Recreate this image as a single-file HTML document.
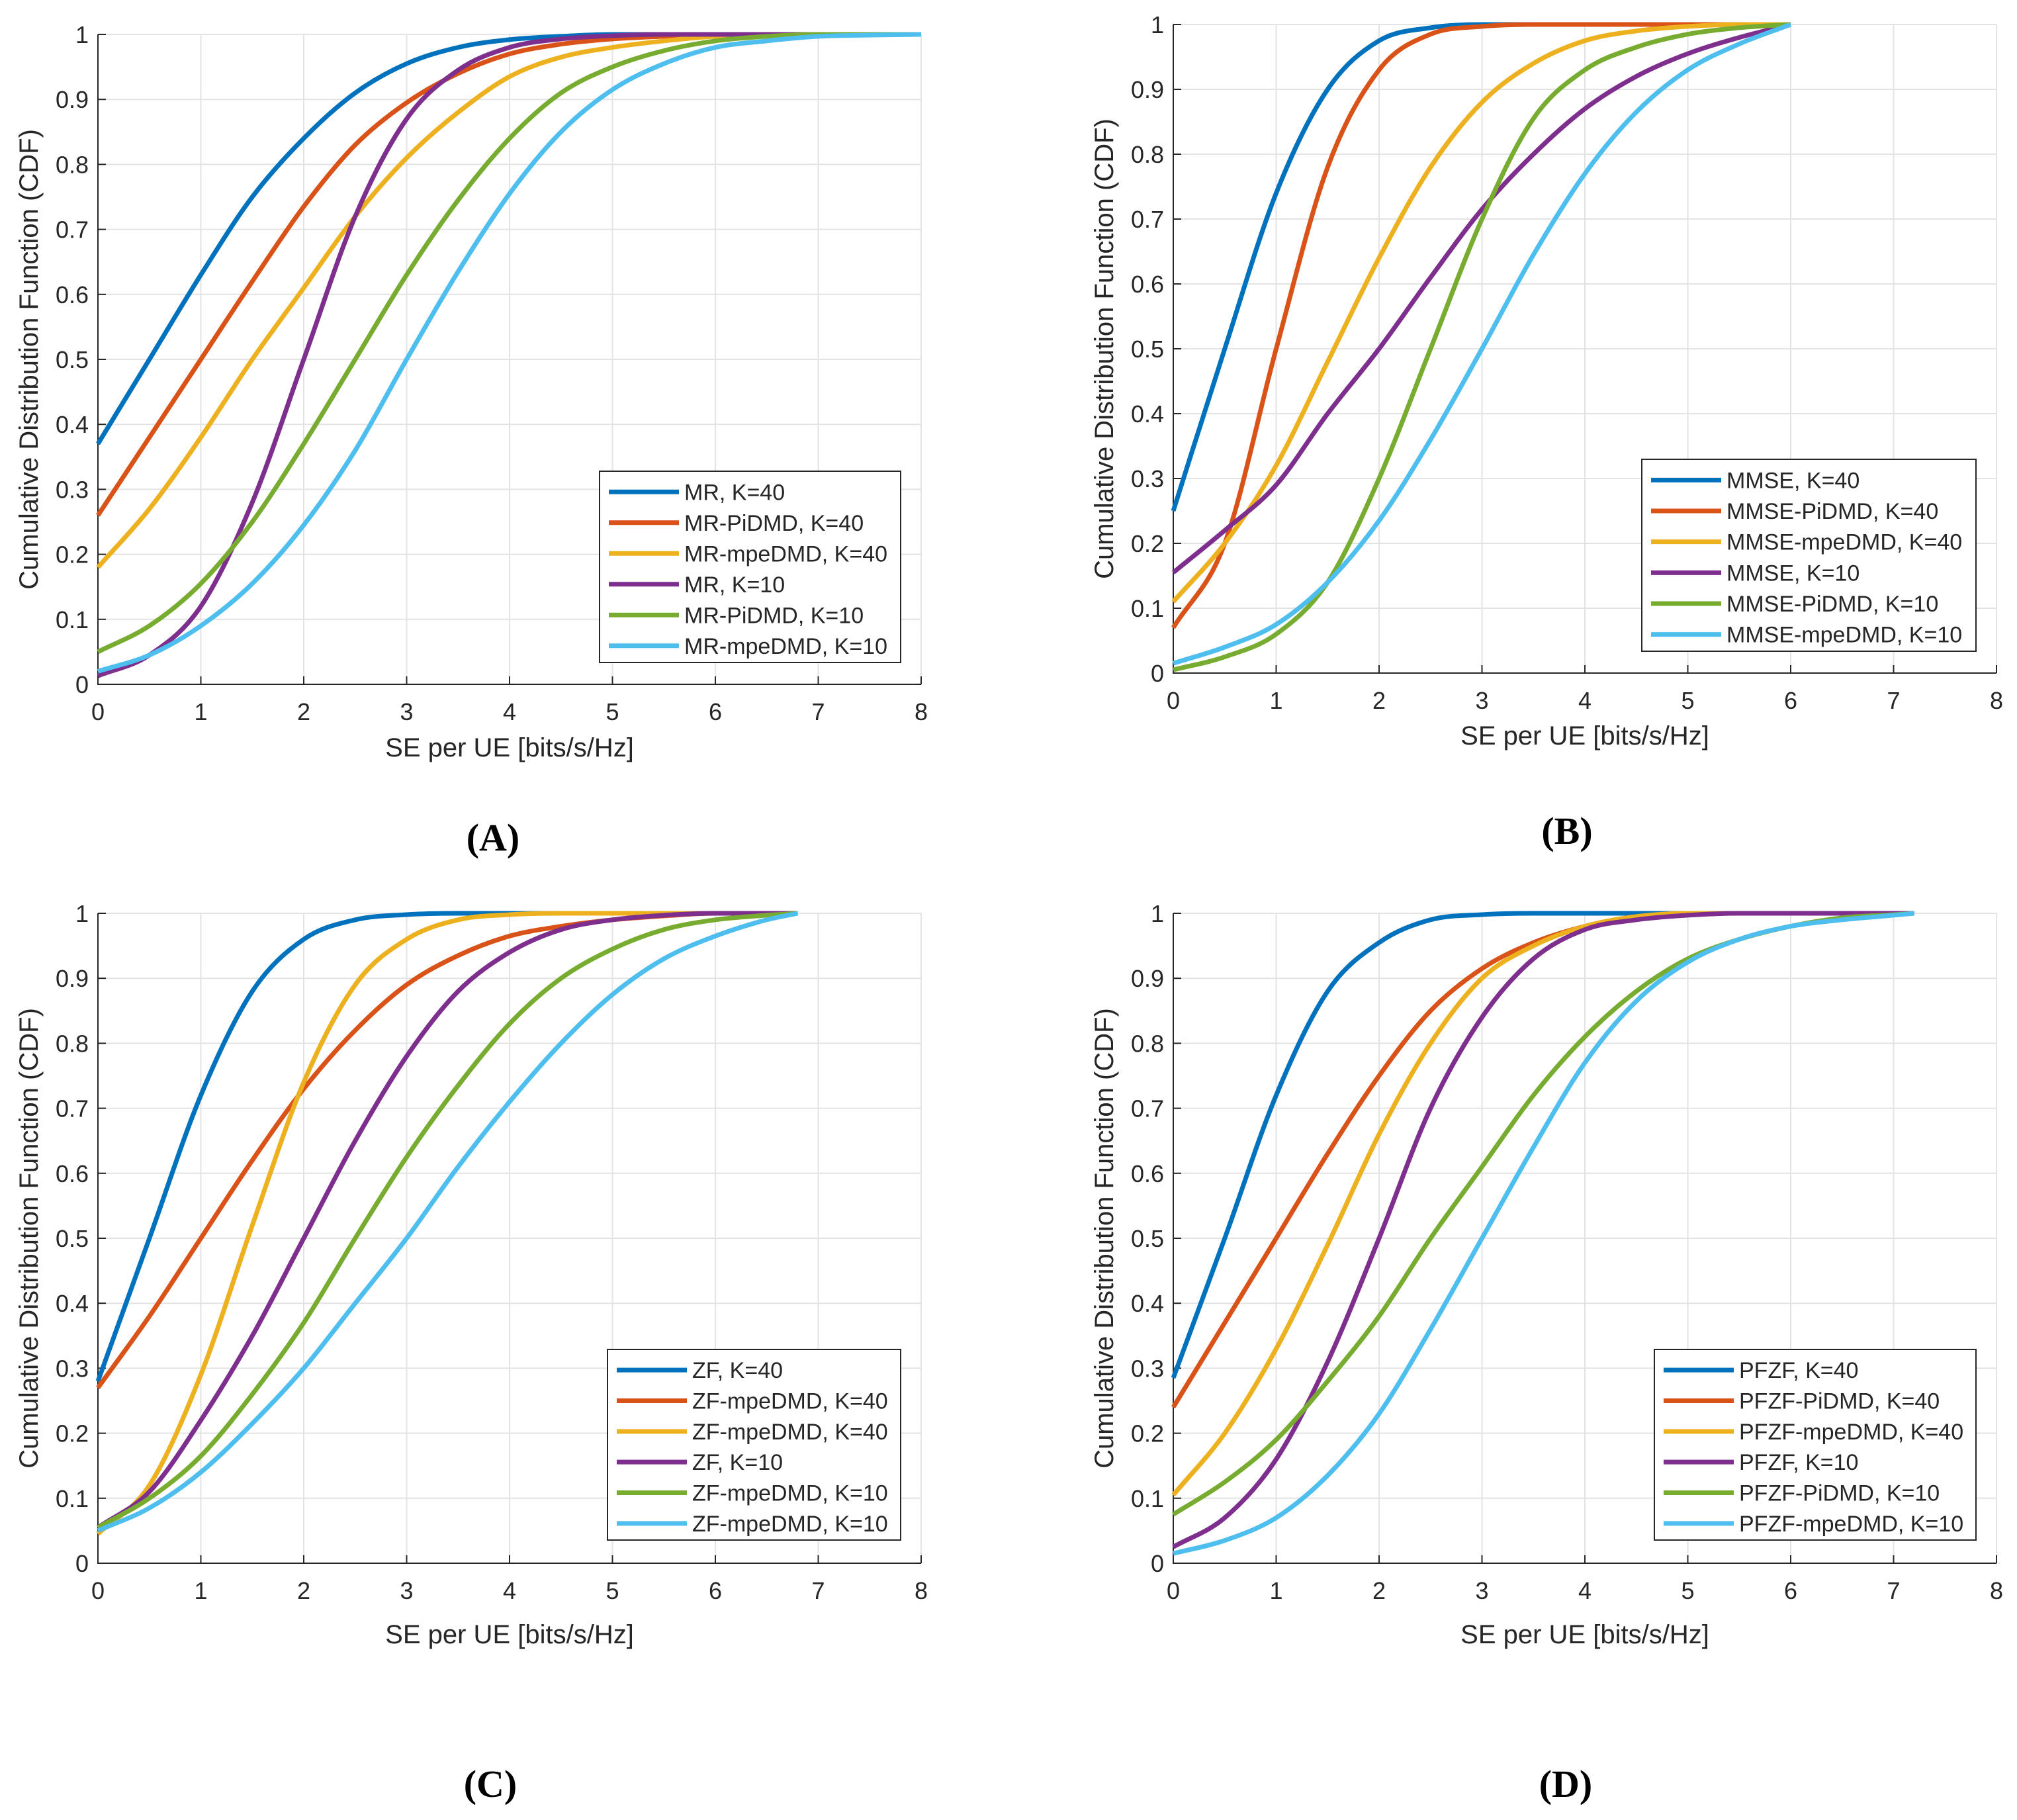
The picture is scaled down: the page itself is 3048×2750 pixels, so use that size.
<!DOCTYPE html>
<html><head><meta charset="utf-8"><style>
html,body{margin:0;padding:0;background:#fff;}
svg{display:block;}
text{font-family:"Liberation Sans",Arial,sans-serif;fill:#262626;}
.cap{font-family:"Liberation Serif",serif;font-weight:bold;fill:#000;}
</style></head><body>
<svg id="fig" width="3048" height="2750" viewBox="0 0 3048 2750" xmlns="http://www.w3.org/2000/svg"></svg>
<script>
// ---- data ----
const colors = ["#0072BD","#D95319","#EDB120","#7E2F8E","#77AC30","#4DBEEE"];
const xTicks = [0,1,2,3,4,5,6,7,8];
const yTicks = [0,0.1,0.2,0.3,0.4,0.5,0.6,0.7,0.8,0.9,1];
const yTickLabels = ["0","0.1","0.2","0.3","0.4","0.5","0.6","0.7","0.8","0.9","1"];

const xA = [0,0.5,1,1.5,2,2.5,3,3.5,4,4.5,5,5.5,6,6.5,7,7.5,8];
const namesA = ["MR, K=40","MR-PiDMD, K=40","MR-mpeDMD, K=40","MR, K=10","MR-PiDMD, K=10","MR-mpeDMD, K=10"];
const a1 = [0.37,0.5,0.63,0.75,0.84,0.91,0.955,0.98,0.992,0.997,1,1,1,1,1,1,1];
const a2 = [0.26,0.38,0.5,0.62,0.735,0.83,0.895,0.94,0.97,0.985,0.993,0.997,1,1,1,1,1];
const a3 = [0.18,0.27,0.38,0.5,0.61,0.72,0.81,0.88,0.935,0.965,0.98,0.99,0.997,1,1,1,1];
const a4 = [0.013,0.045,0.12,0.28,0.5,0.72,0.87,0.945,0.98,0.993,0.998,1,1,1,1,1,1];
const a5 = [0.05,0.09,0.155,0.25,0.37,0.5,0.63,0.745,0.84,0.91,0.95,0.975,0.99,0.997,1,1,1];
const a6 = [0.02,0.045,0.09,0.155,0.245,0.36,0.5,0.635,0.755,0.85,0.915,0.955,0.98,0.99,0.997,0.999,1];

const xB = [0,0.5,1,1.5,2,2.5,3,3.5,4,4.5,5,5.5,6];
const namesB = ["MMSE, K=40","MMSE-PiDMD, K=40","MMSE-mpeDMD, K=40","MMSE, K=10","MMSE-PiDMD, K=10","MMSE-mpeDMD, K=10"];
const b1 = [0.25,0.5,0.74,0.9,0.975,0.995,1,1,1,1,1,1,1];
const b2 = [0.07,0.2,0.5,0.78,0.93,0.985,0.997,1,1,1,1,1,1];
const b3 = [0.11,0.2,0.32,0.48,0.64,0.78,0.88,0.94,0.975,0.99,0.997,1,1];
const b4 = [0.155,0.22,0.29,0.4,0.5,0.61,0.715,0.8,0.87,0.92,0.955,0.98,1];
const b5 = [0.005,0.025,0.06,0.14,0.3,0.5,0.7,0.855,0.93,0.965,0.985,0.995,1];
const b6 = [0.015,0.04,0.075,0.14,0.235,0.36,0.5,0.645,0.77,0.865,0.93,0.97,1];

const xC = [0,0.5,1,1.5,2,2.5,3,3.5,4,4.5,5,5.5,6,6.5,6.8];
const namesC = ["ZF, K=40","ZF-mpeDMD, K=40","ZF-mpeDMD, K=40","ZF, K=10","ZF-mpeDMD, K=10","ZF-mpeDMD, K=10"];
const c1 = [0.28,0.5,0.72,0.88,0.96,0.99,0.998,1,1,1,1,1,1,1,1];
const c2 = [0.27,0.38,0.5,0.62,0.73,0.82,0.89,0.935,0.965,0.98,0.99,0.996,1,1,1];
const c3 = [0.045,0.12,0.29,0.52,0.74,0.89,0.96,0.99,0.998,1,1,1,1,1,1];
const c4 = [0.055,0.11,0.22,0.35,0.5,0.65,0.78,0.88,0.94,0.975,0.99,0.997,1,1,1];
const c5 = [0.055,0.1,0.165,0.26,0.37,0.5,0.625,0.735,0.83,0.9,0.945,0.975,0.99,0.997,1];
const c6 = [0.05,0.085,0.14,0.215,0.3,0.4,0.5,0.61,0.71,0.8,0.875,0.93,0.965,0.99,1];

const xD = [0,0.5,1,1.5,2,2.5,3,3.5,4,4.5,5,5.5,6,6.5,7,7.2];
const namesD = ["PFZF, K=40","PFZF-PiDMD, K=40","PFZF-mpeDMD, K=40","PFZF, K=10","PFZF-PiDMD, K=10","PFZF-mpeDMD, K=10"];
const d1 = [0.285,0.5,0.72,0.88,0.955,0.99,0.998,1,1,1,1,1,1,1,1,1];
const d2 = [0.24,0.37,0.5,0.63,0.75,0.85,0.915,0.955,0.98,0.995,1,1,1,1,1,1];
const d3 = [0.105,0.2,0.33,0.49,0.66,0.8,0.9,0.95,0.98,0.995,1,1,1,1,1,1];
const d4 = [0.025,0.07,0.16,0.31,0.5,0.7,0.84,0.93,0.975,0.99,0.997,1,1,1,1,1];
const d5 = [0.075,0.125,0.19,0.28,0.38,0.5,0.61,0.72,0.81,0.88,0.93,0.96,0.98,0.993,0.998,1];
const d6 = [0.015,0.035,0.07,0.135,0.23,0.36,0.5,0.64,0.77,0.865,0.925,0.96,0.98,0.99,0.997,1];

// ---- layout ----
const panels = [
 {id:"a",cap:"(A)",x0:148,x1:1392,yTop:52,yBot:1034,xs:xA,ys:[a1,a2,a3,a4,a5,a6],names:namesA,leg:[906,712,455,289],ylx:43,xly:1143,capx:745,capy:1285},
 {id:"b",cap:"(B)",x0:1773,x1:3017,yTop:37,yBot:1017,xs:xB,ys:[b1,b2,b3,b4,b5,b6],names:namesB,leg:[2481,694,505,290],ylx:1668,xly:1125,capx:2368,capy:1275},
 {id:"c",cap:"(C)",x0:148,x1:1392,yTop:1380,yBot:2362,xs:xC,ys:[c1,c2,c3,c4,c5,c6],names:namesC,leg:[918,2039,443,288],ylx:43,xly:2483,capx:741,capy:2715},
 {id:"d",cap:"(D)",x0:1773,x1:3017,yTop:1380,yBot:2362,xs:xD,ys:[d1,d2,d3,d4,d5,d6],names:namesD,leg:[2500,2039,486,288],ylx:1668,xly:2483,capx:2366,capy:2715}
];
const NS="http://www.w3.org/2000/svg";
const svg=document.getElementById('fig');
function mk(tag,attrs,parent){const e=document.createElementNS(NS,tag);for(const k in attrs)e.setAttribute(k,attrs[k]);(parent||svg).appendChild(e);return e;}

function monoPath(px,py){
  const n=px.length;const d=[],m=new Array(n);
  for(let i=0;i<n-1;i++)d.push((py[i+1]-py[i])/(px[i+1]-px[i]));
  m[0]=d[0];m[n-1]=d[n-2];
  for(let i=1;i<n-1;i++){m[i]=(d[i-1]*d[i]<=0)?0:(d[i-1]+d[i])/2;}
  for(let i=0;i<n-1;i++){if(d[i]===0){m[i]=0;m[i+1]=0;continue;}
    const a=m[i]/d[i],b=m[i+1]/d[i],s=a*a+b*b;if(s>9){const t=3/Math.sqrt(s);m[i]=t*a*d[i];m[i+1]=t*b*d[i];}}
  let p="M"+px[0].toFixed(1)+","+py[0].toFixed(1);
  for(let i=0;i<n-1;i++){const h=(px[i+1]-px[i])/3;
    p+=" C"+(px[i]+h).toFixed(1)+","+(py[i]+m[i]*h).toFixed(1)+" "+(px[i+1]-h).toFixed(1)+","+(py[i+1]-m[i+1]*h).toFixed(1)+" "+px[i+1].toFixed(1)+","+py[i+1].toFixed(1);}
  return p;
}

panels.forEach(P=>{
  const g=mk('g',{});
  
  
  const sx=v=>P.x0+(P.x1-P.x0)*v/8;
  const sy=v=>P.yBot-(P.yBot-P.yTop)*v;
  xTicks.forEach(t=>{const l=mk('line',{x1:sx(t),x2:sx(t),y1:P.yTop,y2:P.yBot,stroke:'#e3e3e3','stroke-width':2},g);
    });
  yTicks.forEach(t=>{const l=mk('line',{x1:P.x0,x2:P.x1,y1:sy(t),y2:sy(t),stroke:'#e3e3e3','stroke-width':2},g);
    });
  const ax=mk('path',{d:`M${P.x0},${P.yTop} L${P.x0},${P.yBot} L${P.x1},${P.yBot}`,fill:'none',stroke:'#262626','stroke-width':2},g);
  
  xTicks.forEach((t,i)=>{
    mk('line',{x1:sx(t),x2:sx(t),y1:P.yBot,y2:P.yBot-12,stroke:'#262626','stroke-width':2},g);
    const tx=mk('text',{x:sx(t),y:P.yBot+54,'font-size':36,'text-anchor':'middle'},g);tx.textContent=String(t);
    
  });
  yTicks.forEach((t,i)=>{
    mk('line',{x1:P.x0,x2:P.x0+12,y1:sy(t),y2:sy(t),stroke:'#262626','stroke-width':2},g);
    const tx=mk('text',{x:P.x0-14,y:sy(t)+13,'font-size':36,'text-anchor':'end'},g);tx.textContent=yTickLabels[i];
    
  });
  const xl=mk('text',{x:(P.x0+P.x1)/2,y:P.xly,'font-size':40,'text-anchor':'middle'},g);xl.textContent='SE per UE [bits/s/Hz]';
  
  const cy=(P.yTop+P.yBot)/2;
  const yl=mk('text',{x:P.ylx,y:cy,'font-size':40,'text-anchor':'middle',transform:`rotate(-90 ${P.ylx} ${cy})`,dy:14},g);yl.textContent='Cumulative Distribution Function (CDF)';
  
  P.ys.forEach((ys,k)=>{
    const px=P.xs.map(sx),py=ys.map(sy);
    const pa=mk('path',{d:monoPath(px,py),fill:'none',stroke:colors[k],'stroke-width':7,'stroke-linejoin':'round'},g);
    
  });
  const [lx,ly,lw,lh]=P.leg;
  const lg=mk('g',{},g);
  
  mk('rect',{x:lx,y:ly,width:lw,height:lh,fill:'#fff',stroke:'#262626','stroke-width':2},lg);
  const rh=(lh-10)/6;
  P.names.forEach((nm,k)=>{
    const yy=ly+8+rh*(k+0.5);
    const e=mk('g',{},lg);
    
    mk('line',{x1:lx+14,x2:lx+120,y1:yy,y2:yy,stroke:colors[k],'stroke-width':7},e);
    const t=mk('text',{x:lx+128,y:yy+12,'font-size':34},e);t.textContent=nm;
  });
  const cp=mk('text',{x:P.capx,y:P.capy,'font-size':58,'text-anchor':'middle',class:'cap'},g);cp.textContent=P.cap;
  
});
</script>
</body></html>
